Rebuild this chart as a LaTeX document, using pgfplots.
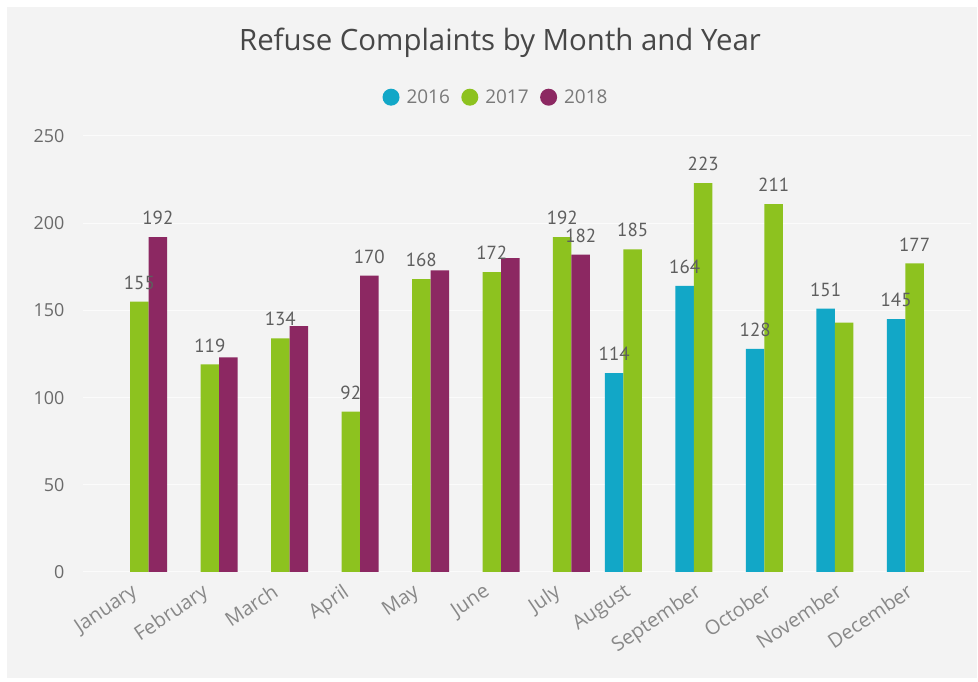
\documentclass[border=0pt]{standalone}
\usepackage{fontspec}
\setmainfont{Open Sans}
\newfontfamily\labfont{PT Sans}
\usepackage{pgfplots}
\usepackage{pgfplotstable}
\pgfplotsset{compat=1.18}
\definecolor{c16}{HTML}{12A7C7}
\definecolor{c17}{HTML}{8DC21F}
\definecolor{c18}{HTML}{8C2862}
\definecolor{bg}{HTML}{F3F3F3}
\definecolor{txt}{HTML}{6A6A6A}
\definecolor{labc}{HTML}{5E5E5E}
\definecolor{gridc}{HTML}{FBFBFB}

\pgfplotstableread{
x y lab
7 114 114
8 164 164
9 128 128
10 151 151
11 145 145
}\tsixteen
\pgfplotstableread{
x y lab
0 155 155
1 119 119
2 134 134
3 92 92
4 168 168
5 172 172
6 192 192
7 185 185
8 223 223
9 211 211
10 143 {}
11 177 177
}\tseventeen
\pgfplotstableread{
x y lab
0 192 192
1 123 {}
2 141 {}
3 170 170
4 173 {}
5 180 {}
6 182 182
}\teighteen

\begin{document}
\begin{tikzpicture}
\useasboundingbox (0,0) rectangle (978bp,682bp);
\fill[white] (0,0) rectangle (978bp,682bp);
\fill[bg] (7bp,4bp) rectangle (977bp,675bp);
\node[font=\fontsize{29.5}{33}\selectfont, text=black!72] at (500bp,639bp) {Refuse Complaints by Month and Year};
\begin{axis}[
  at={(83bp,110bp)}, anchor=south west,
  scale only axis, width=888bp, height=436bp,
  xmin=-0.8, xmax=11.8, ymin=0, ymax=250,
  ybar, bar width=18.5bp,
  axis line style={draw=none},
  tick style={draw=none},
  ymajorgrids, grid style={color=gridc, line width=1bp},
  ytick={0,50,...,250},
  xtick={0,...,11},
  xticklabels={January,February,March,April,May,June,July,August,September,October,November,December},
  /pgf/number format/assume math mode=true,
  yticklabel style={font=\fontsize{18}{20}\selectfont, text=txt, xshift=-15bp},
  xticklabel style={font=\fontsize{20}{22}\selectfont, text=txt!80, rotate=34, anchor=north east, inner sep=0pt, xshift=-11bp, yshift=0bp},
  clip=false,
  point meta=explicit symbolic,
  nodes near coords,
  every node near coord/.append style={font=\labfont\fontsize{19}{20}\selectfont, text=labc, anchor=south, inner sep=0pt, yshift=12bp},
  legend columns=3,
  legend style={at={(0.4645,1.089)}, anchor=center, draw=none, fill=none,
    font=\fontsize{19}{22}\selectfont, text=txt!90,
    /tikz/every odd column/.append style={column sep=6bp},
    /tikz/every even column/.append style={column sep=10.5bp},
    nodes={inner sep=1bp}},
  legend image code/.code={\fill[#1] (0bp,0bp) circle (8.5bp);},
]
\addplot[fill=c16, draw=none, bar shift=-18.5bp] table[x=x, y=y, meta=lab] {\tsixteen};
\addplot[fill=c17, draw=none, bar shift=0bp] table[x=x, y=y, meta=lab] {\tseventeen};
\addplot[fill=c18, draw=none, bar shift=18.5bp] table[x=x, y=y, meta=lab] {\teighteen};
\legend{2016,2017,2018}
\end{axis}
\end{tikzpicture}
\end{document}
